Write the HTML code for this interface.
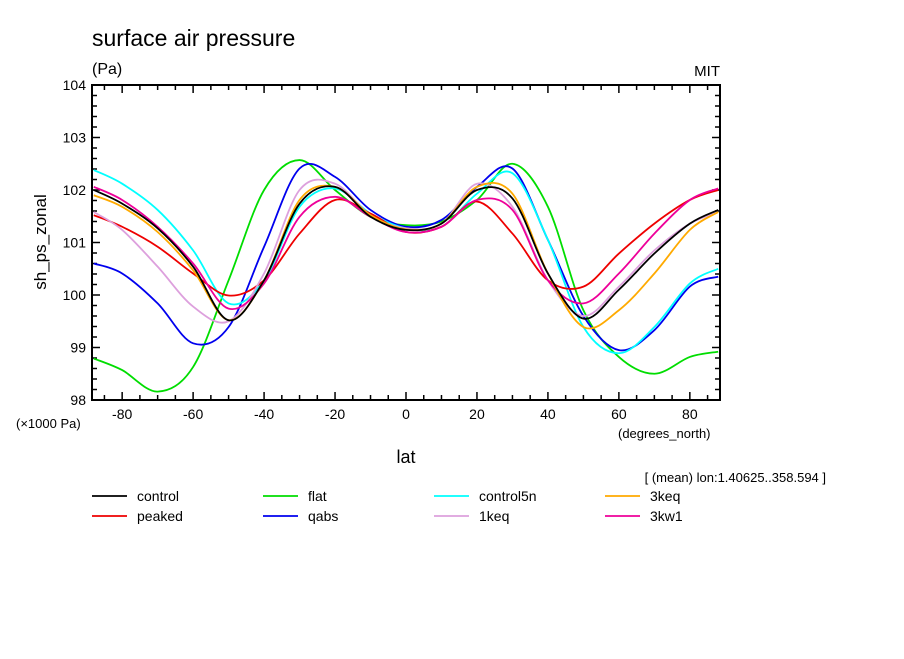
<!DOCTYPE html>
<html><head><meta charset="utf-8"><style>
body{margin:0;background:#fff;}
svg text{font-family:"Liberation Sans",sans-serif;}
</style></head><body>
<svg width="904" height="654" viewBox="0 0 904 654">
<g id="frame"></g>
<g id="series"></g>
<g id="legend"></g>
<text x="92" y="46" font-size="23">surface air pressure</text>
<text x="92" y="74" font-size="16">(Pa)</text>
<text x="720" y="76" font-size="15" text-anchor="end">MIT</text>
<text x="46" y="242" font-size="17" text-anchor="middle" transform="rotate(-90 46 242)">sh_ps_zonal</text>
<text x="406" y="463" font-size="18" text-anchor="middle">lat</text>
<text x="16" y="428" font-size="13">(×1000 Pa)</text>
<text x="618" y="438" font-size="13">(degrees_north)</text>
<text x="826" y="482" font-size="13" text-anchor="end">[ (mean) lon:1.40625..358.594 ]</text>
</svg>
<script>
const lats=[-88,-80,-70,-60,-50,-40,-30,-20,-10,0,10,20,30,40,50,60,70,80,88];
const control=[102.0,101.74,101.27,100.54,99.52,100.28,101.74,102.06,101.49,101.24,101.36,102.0,101.84,100.41,99.55,100.1,100.79,101.36,101.62];
const flat=[98.79,98.57,98.16,98.63,100.28,102.0,102.57,102.0,101.49,101.33,101.4,101.81,102.5,101.68,99.71,98.82,98.5,98.82,98.92];
const control5n=[102.38,102.12,101.62,100.85,99.84,100.28,101.68,102.03,101.55,101.27,101.3,101.93,102.32,101.05,99.39,98.89,99.39,100.22,100.5];
const keq3=[101.9,101.68,101.2,100.47,99.52,100.28,101.81,102.06,101.52,101.25,101.36,102.06,101.93,100.41,99.39,99.71,100.41,101.24,101.58];
const peaked=[101.52,101.3,100.92,100.41,99.99,100.28,101.17,101.81,101.55,101.2,101.3,101.78,101.17,100.28,100.16,100.79,101.36,101.81,102.0];
const qabs=[100.6,100.41,99.84,99.08,99.39,100.92,102.41,102.25,101.62,101.3,101.43,102.06,102.41,101.05,99.6,98.95,99.33,100.16,100.35];
const keq1=[101.58,101.24,100.54,99.78,99.5,100.41,102.0,102.12,101.52,101.27,101.36,102.12,101.68,100.28,99.6,100.16,100.85,101.36,101.58];
const kw13=[102.06,101.81,101.3,100.6,99.74,100.22,101.49,101.87,101.49,101.2,101.3,101.81,101.62,100.28,99.84,100.41,101.17,101.81,102.03];
const seriesNames=["control","flat","control5n","3keq","peaked","qabs","1keq","3kw1"];
const seriesColors=["#000000","#00dd00","#00ffff","#ffaa00","#ee0000","#0000ee","#dda0dd","#ee0099"];
const seriesData=[control,flat,control5n,keq3,peaked,qabs,keq1,kw13];
const xTicks=[-80,-60,-40,-20,0,20,40,60,80];
const yTicks=[98,99,100,101,102,103,104];
const NS="http://www.w3.org/2000/svg";
const L=92,R=720,T=85,B=400,xMin=-88.5,xMax=88.5,yMin=98,yMax=104;
const xs=v=>L+(v-xMin)/(xMax-xMin)*(R-L);
const ys=v=>B-(v-yMin)/(yMax-yMin)*(B-T);
function mk(tag,at,parent){const e=document.createElementNS(NS,tag);for(const k in at)e.setAttribute(k,at[k]);parent.appendChild(e);return e;}
const frame=document.getElementById('frame');
const fr=mk('rect',{x:L,y:T,width:R-L,height:B-T,fill:'none',stroke:'#000','stroke-width':2},frame);


for(let v=-85;v<=85;v+=5){const major=v%20===0;const len=major?8:5;const x=xs(v);
 mk('line',{x1:x,y1:B,x2:x,y2:B-len,stroke:'#000','stroke-width':1.5},frame);
 mk('line',{x1:x,y1:T,x2:x,y2:T+len,stroke:'#000','stroke-width':1.5},frame);}
xTicks.forEach(v=>{const t=mk('text',{x:xs(v),y:B+19,'font-size':14,'text-anchor':'middle'},frame);t.textContent=v;
 
 });
for(let i=0;i<=30;i++){const v=98+i*0.2;const major=i%5===0;const len=major?8:5;const y=ys(v);
 mk('line',{x1:L,y1:y,x2:L+len,y2:y,stroke:'#000','stroke-width':1.5},frame);
 mk('line',{x1:R,y1:y,x2:R-len,y2:y,stroke:'#000','stroke-width':1.5},frame);}
yTicks.forEach(v=>{const t=mk('text',{x:L-6,y:ys(v)+5,'font-size':14,'text-anchor':'end'},frame);t.textContent=v;
 
 });
function pathFor(vals){const p=lats.map((la,i)=>[xs(la),ys(vals[i])]);let d=`M${p[0][0]},${p[0][1]}`;
 for(let i=0;i<p.length-1;i++){const p0=p[Math.max(0,i-1)],p1=p[i],p2=p[i+1],p3=p[Math.min(p.length-1,i+2)];
  const c1=[p1[0]+(p2[0]-p0[0])/6,p1[1]+(p2[1]-p0[1])/6],c2=[p2[0]-(p3[0]-p1[0])/6,p2[1]-(p3[1]-p1[1])/6];
  d+=` C${c1[0]},${c1[1]} ${c2[0]},${c2[1]} ${p2[0]},${p2[1]}`;}return d;}
const sg=document.getElementById('series');
const order=[1,5,2,4,6,7,3,0];
order.forEach(i=>{const e=mk('path',{d:pathFor(seriesData[i]),fill:'none',stroke:seriesColors[i],'stroke-width':1.8},sg);
 
 });
const lg=document.getElementById('legend');
const legOrder=[0,1,2,3,4,5,6,7];
legOrder.forEach((i,k)=>{const col=k%4,row=Math.floor(k/4);const x=92+col*171,y=496+row*20;
 const g=mk('g',{},lg);
 
 
 mk('line',{x1:x,y1:y,x2:x+35,y2:y,stroke:seriesColors[i],'stroke-width':1.8},g);
 const t=mk('text',{x:x+45,y:y+5,'font-size':14},g);t.textContent=seriesNames[i];});
</script>
</body></html>
